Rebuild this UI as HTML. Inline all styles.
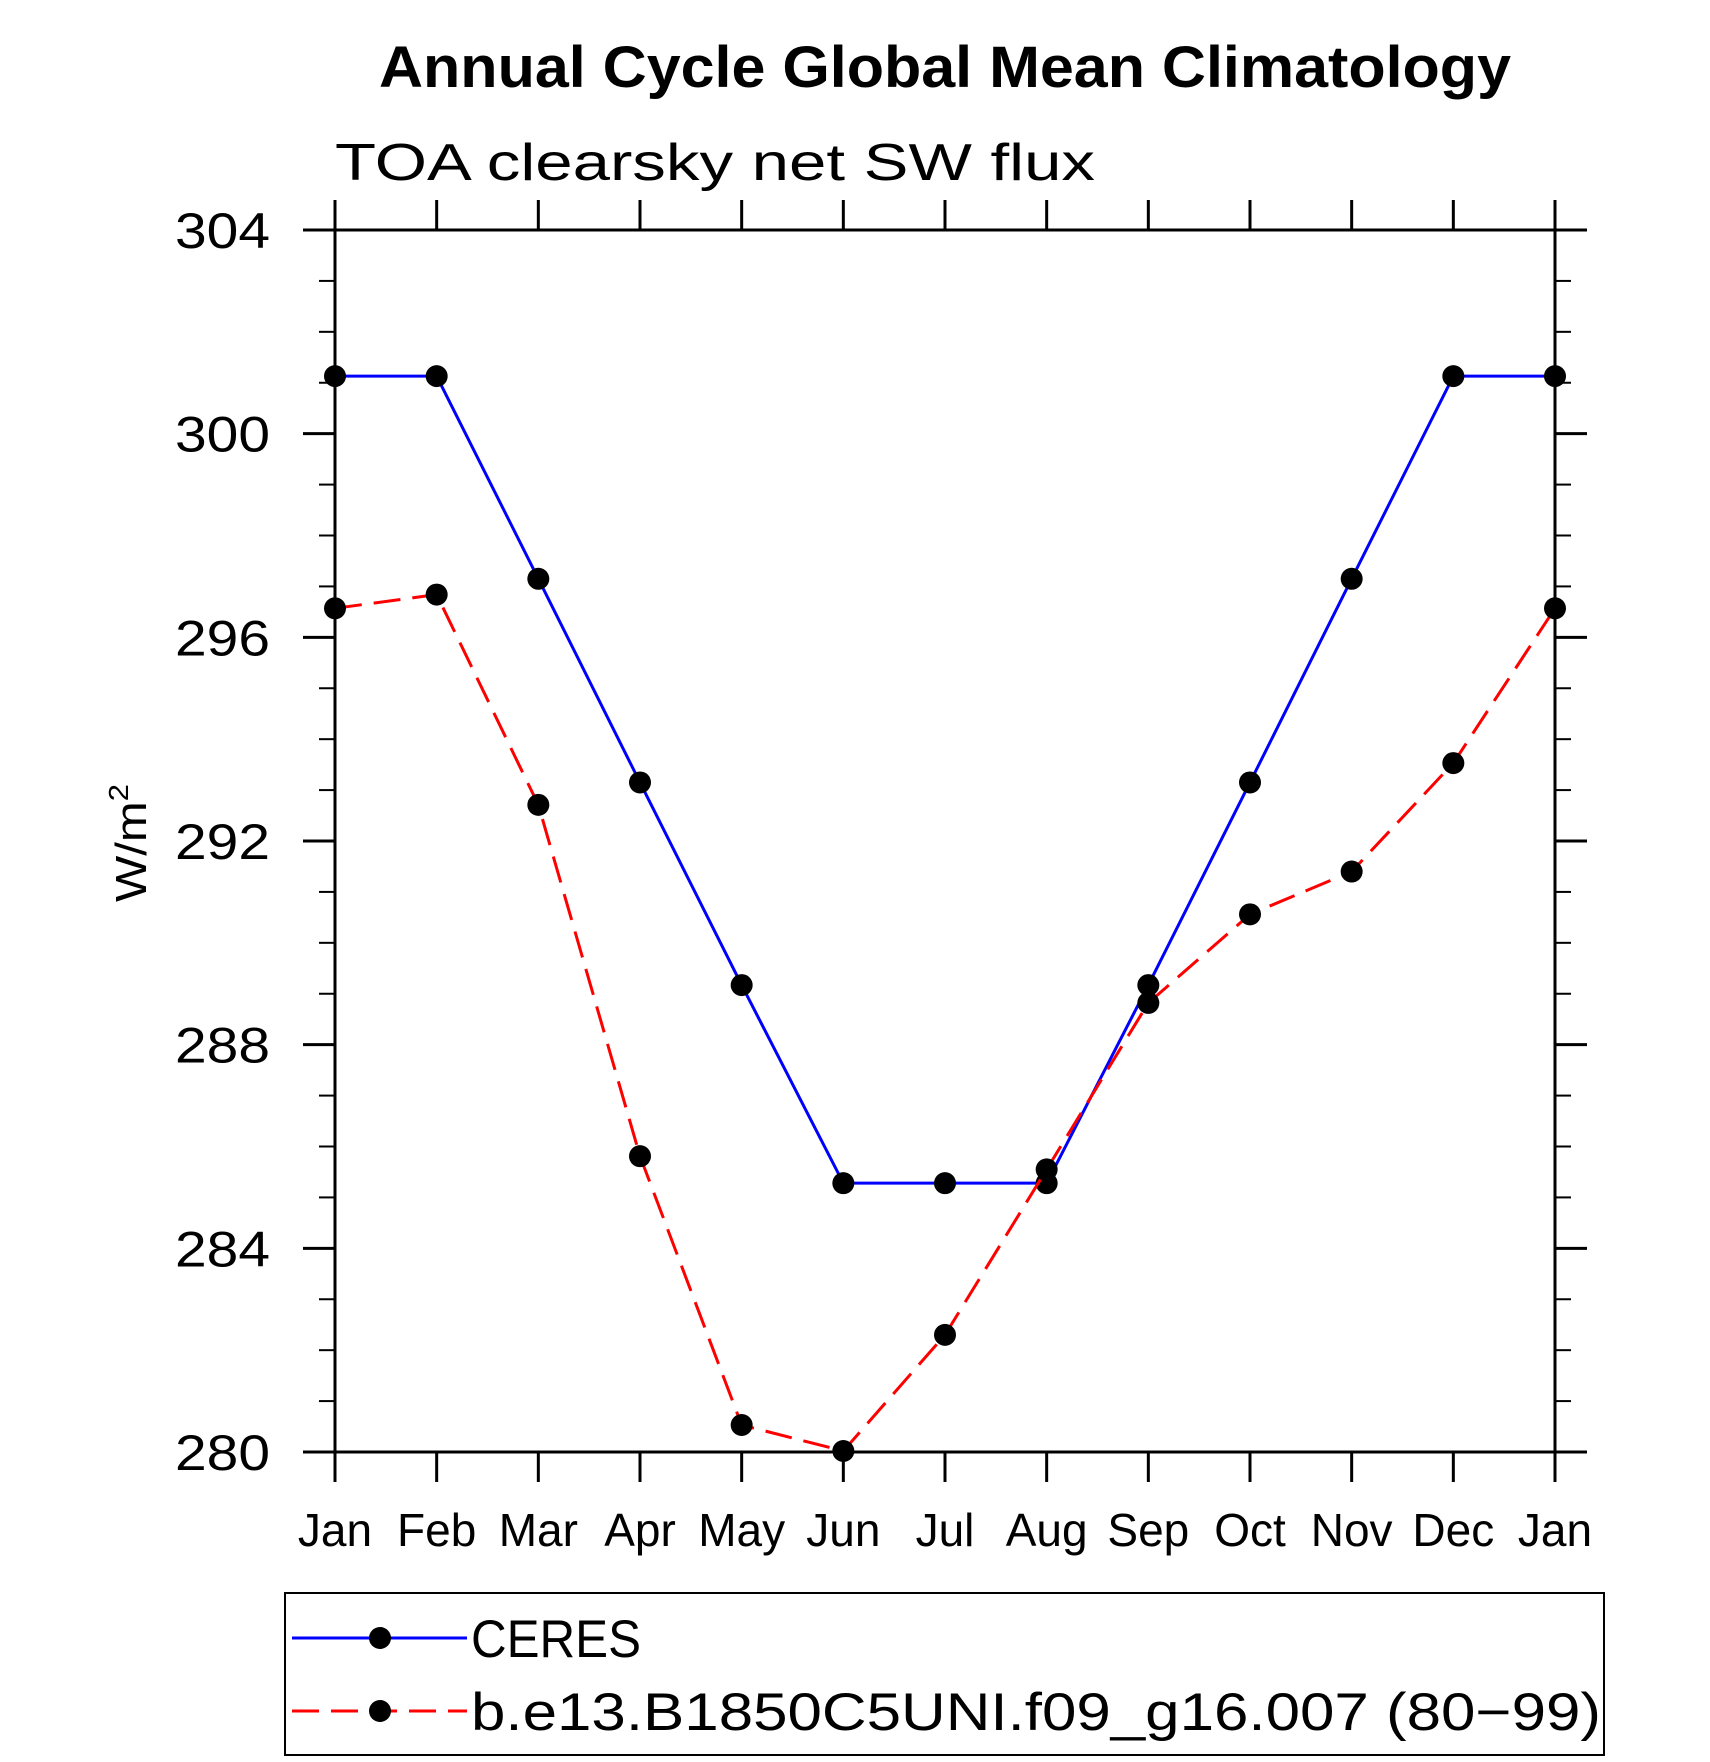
<!DOCTYPE html>
<html><head><meta charset="utf-8"><style>
html,body{margin:0;padding:0;background:#fff}
svg{display:block;font-family:"Liberation Sans",sans-serif}
</style></head><body>
<svg id="chart" width="1710" height="1762" viewBox="0 0 1710 1762" xmlns="http://www.w3.org/2000/svg">
<text x="945" y="87" text-anchor="middle" font-size="58" font-weight="bold" textLength="1132" lengthAdjust="spacingAndGlyphs">Annual Cycle Global Mean Climatology</text>
<text x="335" y="180" font-size="52" textLength="760" lengthAdjust="spacingAndGlyphs" fill="#000">TOA clearsky net SW flux</text>
<text transform="translate(146,843) rotate(-90)" text-anchor="middle" font-size="44" textLength="118" lengthAdjust="spacingAndGlyphs">W/m<tspan font-size="28" dy="-18">2</tspan></text>
<g id="axes"></g>
<g id="series"></g>
<g>
<rect x="285" y="1593" width="1319" height="162" fill="none" stroke="#000" stroke-width="2"/>
<line x1="292" y1="1638" x2="467" y2="1638" stroke="#0000ff" stroke-width="3"/>
<circle cx="380" cy="1638" r="11"/>
<text x="471" y="1657" font-size="53" textLength="170" lengthAdjust="spacingAndGlyphs">CERES</text>
<line x1="292" y1="1711" x2="467" y2="1711" stroke="#ff0000" stroke-width="3" stroke-dasharray="27,12"/>
<circle cx="380" cy="1711" r="11"/>
<text x="471" y="1730" font-size="53" textLength="1130" lengthAdjust="spacingAndGlyphs">b.e13.B1850C5UNI.f09_g16.007 (80−99)</text>
</g>
</svg>
<script>
const months = ["Jan","Feb","Mar","Apr","May","Jun","Jul","Aug","Sep","Oct","Nov","Dec","Jan"];
const ceres = [301.13,301.13,297.15,293.15,289.17,285.28,285.28,285.28,289.17,293.15,297.15,301.13,301.13];
const model = [296.57,296.84,292.71,285.81,280.53,280.02,282.3,285.55,288.82,290.56,291.4,293.53,296.57];
const yTicks = [280,284,288,292,296,300,304];

const NS="http://www.w3.org/2000/svg";
const L=335,R=1555,T=230,B=1452,ymin=280,ymax=304;
const xS=i=>L+(R-L)*i/(months.length-1);
const yS=v=>B-(B-T)*(v-ymin)/(ymax-ymin);
function mk(tag,attrs,parent){const e=document.createElementNS(NS,tag);for(const k in attrs)e.setAttribute(k,attrs[k]);parent.appendChild(e);return e;}
const ax=document.getElementById('axes');
const frame=mk('rect',{x:L,y:T,width:R-L,height:B-T,fill:'none',stroke:'#000','stroke-width':3},ax);


for(let v=ymin;v<=ymax;v++){
  const major=yTicks.includes(v);const len=major?32:16;const y=yS(v);
  const t1=mk('line',{x1:L-len,y1:y,x2:L,y2:y,stroke:'#000','stroke-width':major?3:2},ax);
  
  
  const t2=mk('line',{x1:R,y1:y,x2:R+len,y2:y,stroke:'#000','stroke-width':major?3:2},ax);
  
  
}
yTicks.forEach(v=>{
  const t=mk('text',{x:270,y:yS(v)+18,'text-anchor':'end','font-size':50,textLength:95,lengthAdjust:'spacingAndGlyphs'},ax);
  t.textContent=v;
  
  
});
months.forEach((m,i)=>{
  const x=xS(i);
  const a=mk('line',{x1:x,y1:T-30,x2:x,y2:T,stroke:'#000','stroke-width':3},ax);
  
  
  const b=mk('line',{x1:x,y1:B,x2:x,y2:B+30,stroke:'#000','stroke-width':3},ax);
  
  
  const t=mk('text',{x:x,y:1546,'text-anchor':'middle','font-size':46},ax);
  t.textContent=m;
  
  
});
const sg=document.getElementById('series');
function draw(vals,color,dash,name){
  const pts=vals.map((v,i)=>xS(i)+','+yS(v)).join(' ');
  const pl=mk('polyline',{points:pts,fill:'none',stroke:color,'stroke-width':3},sg);
  if(dash)pl.setAttribute('stroke-dasharray',dash);
  
  
  vals.forEach((v,i)=>{
    const c=mk('circle',{cx:xS(i),cy:yS(v),r:11,fill:'#000'},sg);
    
    
  });
}
draw(ceres,'#0000ff',null,'ceres');
draw(model,'#ff0000','27,12','model');
</script>
</body></html>
